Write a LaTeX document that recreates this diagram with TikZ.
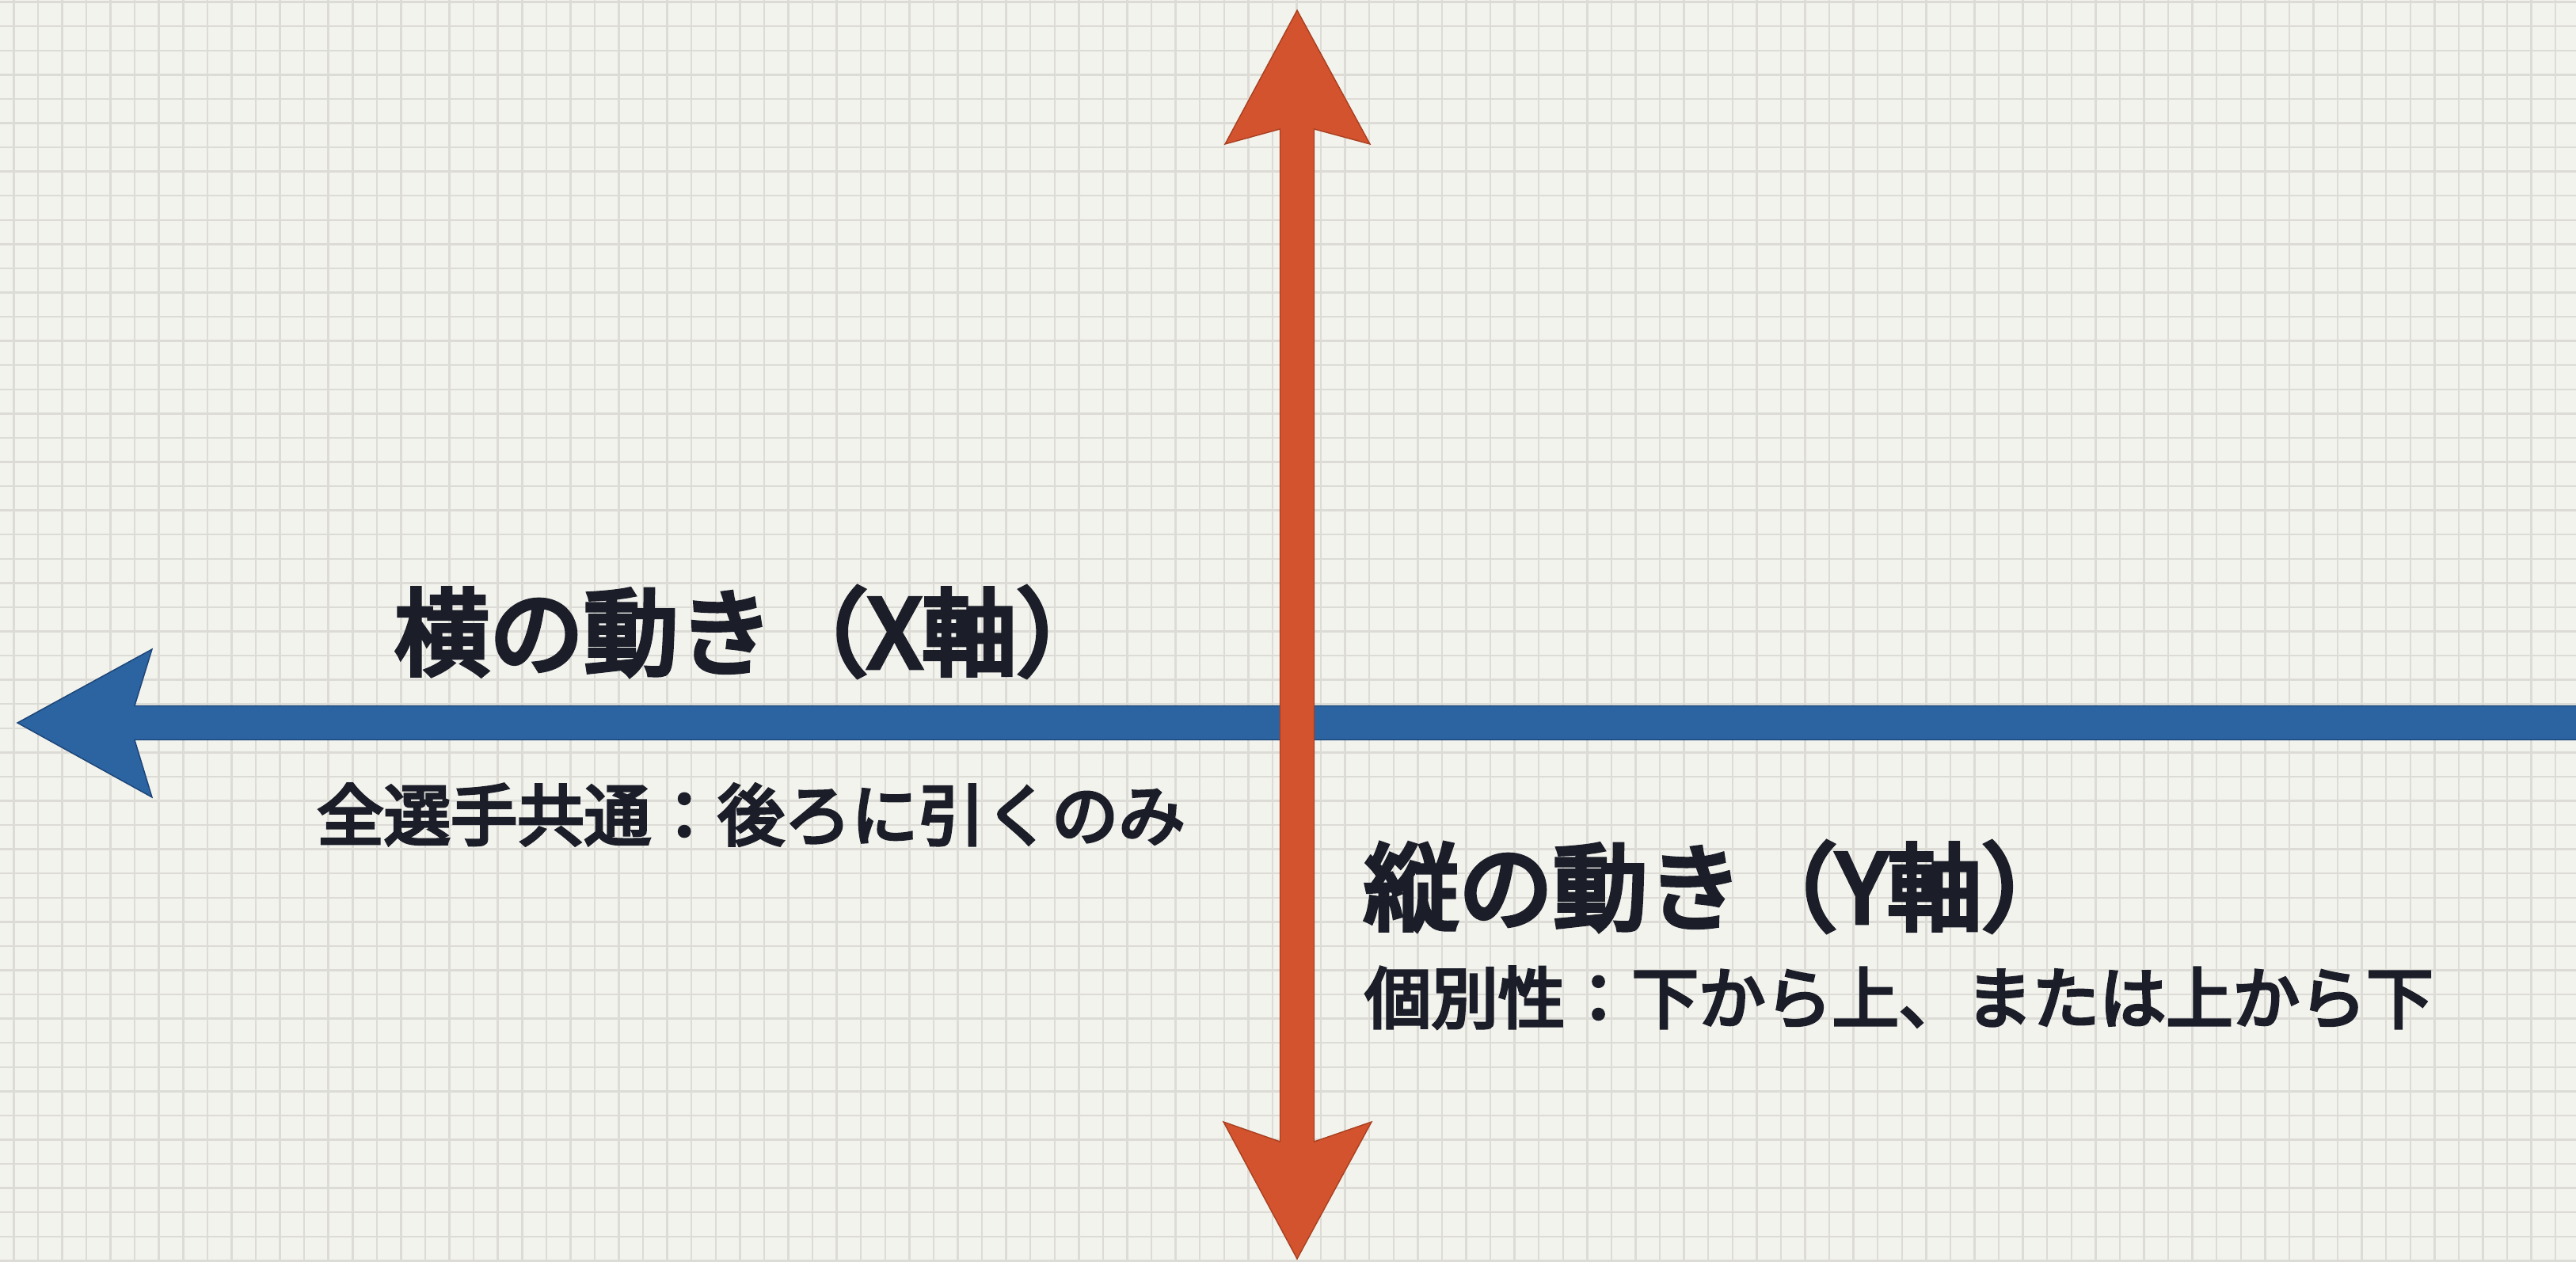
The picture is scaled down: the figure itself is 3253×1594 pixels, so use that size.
\documentclass[tikz,border=0pt]{standalone}
\usepackage{fontspec}
\newfontfamily\jpt{Noto Sans CJK JP}[FakeBold=5]
\newfontfamily\jps{Noto Sans CJK JP}[FakeBold=4.5]
\definecolor{bg}{HTML}{F3F3EE}
\definecolor{gridc}{HTML}{DCDBD5}
\definecolor{redA}{HTML}{D3532F}
\definecolor{redE}{HTML}{A8401F}
\definecolor{blueA}{HTML}{2C63A1}
\definecolor{blueE}{HTML}{1B4476}
\definecolor{ink}{HTML}{1B1E28}
\tikzset{
  gridline/.style={draw=gridc, line width=1.4pt},
  redarrow/.style={fill=redA, draw=redE, line width=0.8pt, line join=miter},
  bluearrow/.style={fill=blueA, draw=blueE, line width=0.8pt, line join=miter},
  titletext/.style={anchor=west, inner sep=0pt, text=ink, font=\jpt\fontsize{68pt}{80pt}\selectfont},
  subtext/.style={anchor=west, inner sep=0pt, text=ink, font=\jps\fontsize{48pt}{58pt}\selectfont}
}
\begin{document}
\begin{tikzpicture}[x=0.02cm, y=-0.02cm]
\fill[bg] (0,0) rectangle (3253,1594);
\useasboundingbox (0,0) rectangle (3253,1594);
\begin{scope}
\clip (0,0) rectangle (3253,1594);
\foreach \i in {0,...,105} \draw[gridline] ({17.3+\i*30.57},0) -- ({17.3+\i*30.57},1594);
\foreach \j in {0,...,52} \draw[gridline] (0,{2.7+\j*30.57}) -- (3253,{2.7+\j*30.57});
% blue horizontal arrow
\coordinate (btip) at (22,913);
\draw[bluearrow] (btip) -- (192,820) -- (170,891.5) -- (3270,891.5) -- (3270,934.5) -- (170,934.5) -- (192,1007) -- cycle;
% red vertical arrow
\coordinate (rtop) at (1638,13);
\coordinate (rbot) at (1638,1590);
\draw[redarrow] (rtop) -- (1730,182) -- (1659.5,163) -- (1659.5,1442) -- (1732,1417) -- (rbot) -- (1545,1417) -- (1616.5,1442) -- (1616.5,163) -- (1547,182) -- cycle;
\end{scope}
\node[titletext] (xt) at (498,798) {横の動き（X軸）};
\node[subtext] (xs) at (400,1029) {全選手共通：後ろに引くのみ};
\node[titletext] (yt) at (1722,1120) {縦の動き（Y軸）};
\node[subtext] (ys) at (1723,1260) {個別性：下から上、または上から下};
\end{tikzpicture}
\end{document}
